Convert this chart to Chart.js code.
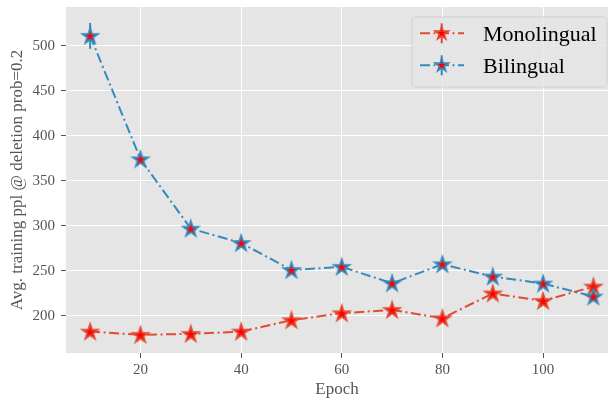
<!DOCTYPE html>
<html><head><meta charset="utf-8">
<script src="https://cdn.jsdelivr.net/npm/chart.js@4/dist/chart.umd.min.js"></script>
<style>html,body{margin:0;padding:0;background:#fff}canvas{display:block}</style>
</head><body>
<canvas id="c" width="608" height="398"></canvas>
<script>
const epochs = [10, 20, 30, 40, 50, 60, 70, 80, 90, 100, 110];
const monolingual = [182.6, 179.0, 180.0, 182.6, 195.2, 203.0, 206.7, 197.4, 225.0, 216.7, 232.6];
const bilingual = [511.1, 374.0, 297.0, 281.0, 251.0, 254.5, 236.3, 257.4, 243.7, 235.9, 221.5];
const bilingualErr = [14.4, 0, 0, 0, 0, 0, 0, 0, 0, 0, 0];
const seriesNames = ['Monolingual', 'Bilingual'];
const xTicks = [20, 40, 60, 80, 100];
const yTicks = [200, 250, 300, 350, 400, 450, 500];

const RED = '#E24A33', BLUE = '#348ABD';
const SERIF = "'Liberation Serif', 'DejaVu Serif', serif";
const DASH = [10, 3.5, 2, 3.5];

function starPath(ctx, cx, cy, R) {
  const r = R * 0.382;
  ctx.beginPath();
  for (let i = 0; i < 10; i++) {
    const a = -Math.PI / 2 + i * Math.PI / 5;
    const rr = i % 2 === 0 ? R : r;
    const px = cx + rr * Math.cos(a), py = cy + rr * Math.sin(a);
    if (i === 0) ctx.moveTo(px, py); else ctx.lineTo(px, py);
  }
  ctx.closePath();
}
function makeStar(edge, R) {
  const s = Math.ceil(R * 2 + 6);
  const cv = document.createElement('canvas');
  cv.width = s; cv.height = s;
  const ctx = cv.getContext('2d');
  starPath(ctx, s / 2, s / 2 + 0.5, R);
  ctx.fillStyle = '#FF0000';
  ctx.fill();
  ctx.lineWidth = 1.8;
  ctx.lineJoin = 'miter';
  ctx.strokeStyle = edge;
  ctx.stroke();
  return cv;
}
const starMono = makeStar(RED, 8);
const starBi = makeStar(BLUE, 8);

function errSegments(xs, ys, es) {
  const pts = [];
  xs.forEach((x, i) => {
    if (es[i] > 0) {
      pts.push({x: x, y: ys[i] - es[i]}, {x: x, y: ys[i] + es[i]}, {x: NaN, y: NaN});
    }
  });
  return pts;
}

const bgPlugin = {
  id: 'bg',
  beforeDraw(chart) {
    const {ctx, chartArea: a} = chart;
    ctx.save();
    ctx.fillStyle = '#E5E5E5';
    ctx.fillRect(a.left, a.top, a.right - a.left, a.bottom - a.top);
    ctx.restore();
  }
};

const legendPlugin = {
  id: 'boxLegend',
  afterDatasetsDraw(chart) {
    const ctx = chart.ctx;
    const bx = 412, by = 17, bw = 195, bh = 70, rad = 4;
    ctx.save();
    ctx.beginPath();
    ctx.moveTo(bx + rad, by);
    ctx.arcTo(bx + bw, by, bx + bw, by + bh, rad);
    ctx.arcTo(bx + bw, by + bh, bx, by + bh, rad);
    ctx.arcTo(bx, by + bh, bx, by, rad);
    ctx.arcTo(bx, by, bx + bw, by, rad);
    ctx.closePath();
    ctx.fillStyle = 'rgba(229,229,229,0.85)';
    ctx.fill();
    ctx.lineWidth = 1;
    ctx.strokeStyle = 'rgba(204,204,204,0.8)';
    ctx.stroke();
    const entries = [
      {name: seriesNames[0], color: RED, cy: 33.3},
      {name: seriesNames[1], color: BLUE, cy: 65.3}
    ];
    entries.forEach(e => {
      ctx.strokeStyle = e.color;
      ctx.lineWidth = 2;
      ctx.setLineDash(DASH);
      ctx.beginPath();
      ctx.moveTo(420, e.cy);
      ctx.lineTo(464, e.cy);
      ctx.stroke();
      ctx.setLineDash([]);
      ctx.beginPath();
      ctx.moveTo(441.7, e.cy - 10);
      ctx.lineTo(441.7, e.cy + 10);
      ctx.stroke();
      starPath(ctx, 441.7, e.cy, 7);
      ctx.fillStyle = '#FF0000';
      ctx.fill();
      ctx.lineWidth = 1.6;
      ctx.strokeStyle = e.color;
      ctx.stroke();
      ctx.fillStyle = '#000';
      ctx.font = '22px ' + SERIF;
      ctx.textBaseline = 'alphabetic';
      ctx.textAlign = 'left';
      ctx.fillText(e.name, 483, e.cy + 7.4);
    });
    ctx.restore();
  }
};

const tickFont = {family: SERIF, size: 15};
const titleFont = {family: SERIF, size: 17, lineHeight: 1};

new Chart(document.getElementById('c'), {
  type: 'line',
  data: {
    datasets: [
      {
        label: seriesNames[0],
        data: epochs.map((x, i) => ({x: x, y: monolingual[i]})),
        borderColor: RED, backgroundColor: '#FF0000',
        borderWidth: 2, borderDash: DASH,
        pointStyle: starMono, pointRadius: 9, pointHoverRadius: 9,
        fill: false, tension: 0, order: 3
      },
      {
        label: 'Bilingual error',
        data: errSegments(epochs, bilingual, bilingualErr),
        borderColor: BLUE, borderWidth: 2, pointRadius: 0,
        spanGaps: false, fill: false, tension: 0, order: 2
      },
      {
        label: seriesNames[1],
        data: epochs.map((x, i) => ({x: x, y: bilingual[i]})),
        borderColor: BLUE, backgroundColor: '#FF0000',
        borderWidth: 2, borderDash: DASH,
        pointStyle: starBi, pointRadius: 9, pointHoverRadius: 9,
        fill: false, tension: 0, order: 1
      }
    ]
  },
  options: {
    responsive: false,
    animation: false,
    devicePixelRatio: 1,
    layout: {autoPadding: false, padding: {top: 7, right: 0, left: 0, bottom: 0}},
    plugins: {legend: {display: false}, tooltip: {enabled: false}},
    scales: {
      x: {
        type: 'linear', min: 5.2, max: 112.9,
        afterBuildTicks: s => { s.ticks = xTicks.map(v => ({value: v})); },
        afterFit: s => { s.height = 45; s.paddingLeft = 0; s.paddingRight = 0; },
        grid: {color: '#FFFFFF', lineWidth: 1, tickLength: 5, tickColor: '#555555', drawOnChartArea: true},
        border: {display: false},
        ticks: {font: tickFont, color: '#555555', padding: 3, maxRotation: 0},
        title: {display: true, text: 'Epoch', font: titleFont, color: '#555555', padding: {top: 0, bottom: 0}}
      },
      y: {
        type: 'linear', min: 158.8, max: 543.2,
        afterBuildTicks: s => { s.ticks = yTicks.map(v => ({value: v})); },
        afterFit: s => { s.width = 66; s.paddingTop = 0; s.paddingBottom = 0; },
        grid: {color: '#FFFFFF', lineWidth: 1, tickLength: 5, tickColor: '#555555'},
        border: {display: false},
        ticks: {font: tickFont, color: '#555555', padding: 6},
        title: {display: true, text: 'Avg. training ppl @ deletion prob=0.2', font: titleFont, color: '#555555', padding: {top: 9, bottom: 0}}
      }
    }
  },
  plugins: [bgPlugin, legendPlugin]
});
</script>
</body></html>
